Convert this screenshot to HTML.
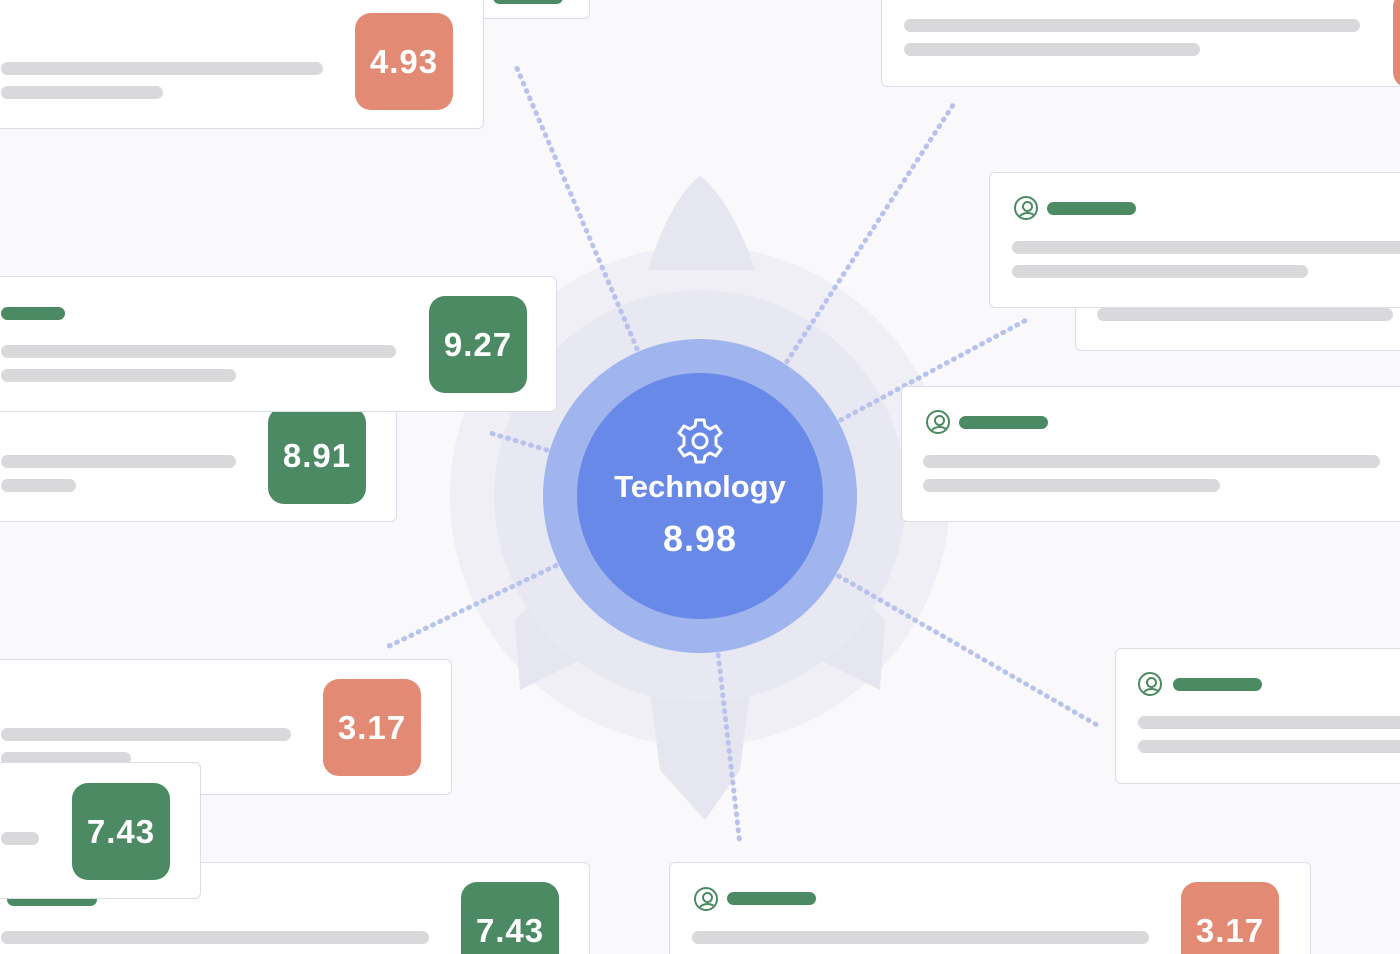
<!DOCTYPE html>
<html><head><meta charset="utf-8"><style>
html{margin:0;padding:0;width:1400px;height:954px;overflow:hidden}
body{margin:0;padding:0;width:1400px;height:954px;position:relative;overflow:hidden;background:#f9f9fb;font-family:"Liberation Sans",sans-serif}
.c{position:absolute;background:#fff;border:1.5px solid #dcdce6;border-radius:6px;box-sizing:border-box}
.b{position:absolute;height:13px;border-radius:7px;background:#d9d9dc}
.g{position:absolute;height:13px;border-radius:7px;background:#4c8a63}
.k{position:absolute;width:98px;height:97px;border-radius:16px;color:#fff;font-size:33px;font-weight:bold;display:flex;align-items:center;justify-content:center;letter-spacing:1px}
.gr{background:#4c8a63}.or{background:#e28a73}
.ic{position:absolute;width:24px;height:24px;border:2.5px solid #4c8a63;border-radius:50%;box-sizing:border-box;overflow:hidden}
.ic:before{content:"";position:absolute;left:6px;top:3px;width:7px;height:7px;border:2.5px solid #4c8a63;border-radius:50%}
.ic:after{content:"";position:absolute;left:2px;top:14px;width:15px;height:10px;border:2.5px solid #4c8a63;border-radius:50%}
svg{position:absolute;left:0;top:0}
</style></head><body>
<svg width="1400" height="954">
<circle cx="700" cy="496" r="250" fill="#efeff5"/>
<path d="M700 176 C680 190 660 230 648 270 L755 270 C742 230 720 190 700 176Z" fill="#e5e6f0"/>
<path d="M600 540 L515 620 L520 690 L600 650Z" fill="#e5e6f0"/>
<path d="M800 540 L885 620 L880 690 L800 650Z" fill="#e5e6f0"/>
<path d="M650 690 L750 690 L740 770 L705 820 L660 770Z" fill="#e5e6f0"/>
<circle cx="700" cy="496" r="206" fill="#e7e8f2"/>
<g stroke="#b8c2ec" stroke-width="5" stroke-dasharray="1 7" stroke-linecap="round" fill="none">
<line x1="700" y1="496" x2="516" y2="66"/>
<line x1="700" y1="496" x2="955" y2="102"/>
<line x1="700" y1="496" x2="1030" y2="318"/>
<line x1="700" y1="496" x2="1097" y2="725"/>
<line x1="700" y1="496" x2="740" y2="845"/>
<line x1="700" y1="496" x2="385" y2="648"/>
<line x1="700" y1="496" x2="487" y2="432"/>
</g>
<circle cx="700" cy="496" r="157" fill="#a0b4ee"/>
<circle cx="700" cy="496" r="123" fill="#6889e8"/>
<g transform="translate(700,441)" fill="none" stroke="#fff" stroke-width="3">
<path d="M-4 -21 L4 -21 L5 -15 L10 -12 L16 -15 L21 -8 L16 -4 L16 4 L21 8 L16 15 L10 12 L5 15 L4 21 L-4 21 L-5 15 L-10 12 L-16 15 L-21 8 L-16 4 L-16 -4 L-21 -8 L-16 -15 L-10 -12 L-5 -15Z" stroke-linejoin="round"/>
<circle r="7"/>
</g>
<text x="700" y="497" fill="#fff" font-size="31" font-weight="bold" text-anchor="middle" font-family="Liberation Sans">Technology</text>
<text x="700" y="551" fill="#fff" font-size="36" font-weight="bold" text-anchor="middle" font-family="Liberation Sans" letter-spacing="1">8.98</text>
</svg>

<div class="c" style="left:470px;top:-20px;width:120px;height:39px"><div class="g" style="left:22px;top:10px;width:70px"></div></div>
<div class="c" style="left:-6px;top:-10px;width:490px;height:139px"><div class="b" style="left:6px;top:71px;width:322px"></div><div class="b" style="left:6px;top:95px;width:162px"></div><div class="k or" style="left:360px;top:22px">4.93</div></div>

<div class="c" style="left:-6px;top:400px;width:403px;height:122px"><div class="b" style="left:6px;top:54px;width:235px"></div><div class="b" style="left:6px;top:78px;width:75px"></div><div class="k gr" style="left:273px;top:6px">8.91</div></div>
<div class="c" style="left:-6px;top:276px;width:563px;height:136px"><div class="g" style="left:6px;top:30px;width:64px"></div><div class="b" style="left:6px;top:68px;width:395px"></div><div class="b" style="left:6px;top:92px;width:235px"></div><div class="k gr" style="left:434px;top:19px">9.27</div></div>

<div class="c" style="left:-6px;top:862px;width:596px;height:110px"><div class="g" style="left:12px;top:30px;width:90px"></div><div class="b" style="left:6px;top:68px;width:428px"></div><div class="k gr" style="left:466px;top:19px">7.43</div></div>
<div class="c" style="left:-6px;top:659px;width:458px;height:136px"><div class="b" style="left:6px;top:68px;width:290px"></div><div class="b" style="left:6px;top:92px;width:130px"></div><div class="k or" style="left:328px;top:19px">3.17</div></div>
<div class="c" style="left:-6px;top:762px;width:207px;height:137px"><div class="b" style="left:6px;top:69px;width:38px"></div><div class="k gr" style="left:77px;top:20px">7.43</div></div>

<div class="c" style="left:881px;top:-10px;width:540px;height:97px"><div class="b" style="left:22px;top:28px;width:456px"></div><div class="b" style="left:22px;top:52px;width:296px"></div><div class="k or" style="left:511px;top:0px"></div></div>

<div class="c" style="left:1075px;top:280px;width:340px;height:71px"><div class="b" style="left:21px;top:27px;width:296px"></div></div>
<div class="c" style="left:989px;top:172px;width:430px;height:136px"><div class="ic" style="left:24px;top:23px"></div><div class="g" style="left:57px;top:29px;width:89px"></div><div class="b" style="left:22px;top:68px;width:420px"></div><div class="b" style="left:22px;top:92px;width:296px"></div></div>

<div class="c" style="left:901px;top:386px;width:520px;height:136px"><div class="ic" style="left:24px;top:23px"></div><div class="g" style="left:57px;top:29px;width:89px"></div><div class="b" style="left:21px;top:68px;width:457px"></div><div class="b" style="left:21px;top:92px;width:297px"></div></div>

<div class="c" style="left:1115px;top:648px;width:310px;height:136px"><div class="ic" style="left:22px;top:23px"></div><div class="g" style="left:57px;top:29px;width:89px"></div><div class="b" style="left:22px;top:67px;width:300px"></div><div class="b" style="left:22px;top:91px;width:300px"></div></div>

<div class="c" style="left:669px;top:862px;width:642px;height:110px"><div class="ic" style="left:24px;top:24px"></div><div class="g" style="left:57px;top:29px;width:89px"></div><div class="b" style="left:22px;top:68px;width:457px"></div><div class="k or" style="left:511px;top:19px">3.17</div></div>
</body></html>
